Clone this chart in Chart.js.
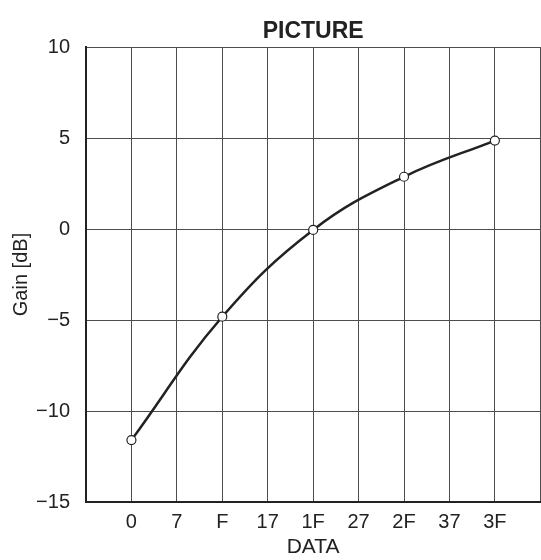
<!DOCTYPE html>
<html>
<head>
<meta charset="utf-8">
<script src="https://cdn.jsdelivr.net/npm/chart.js@4"></script>
<style>
  html, body { margin: 0; padding: 0; background: #fff; overflow: hidden; }
  #wrap { width: 546px; height: 560px; }
</style>
</head>
<body>
<div id="wrap"><canvas id="gain-chart"></canvas></div>
<script>
// x categories (hex codes) shown on the axis
const xLabels = ['0', '7', 'F', '17', '1F', '27', '2F', '37', '3F'];
// measured points
const pointCodes = ['0', 'F', '1F', '2F', '3F'];
const gainDb = [-11.6, -4.82, -0.05, 2.87, 4.86];
const yMin = -15, yMax = 10, yStep = 5;
const chartTitle = 'PICTURE';

const gridColor = '#4d4d4d';
const ink = '#222222';
const font = '"Liberation Sans", Arial, sans-serif';

const points = pointCodes.map((code, i) => ({ x: xLabels.indexOf(code), y: gainDb[i] }));

// title centred over the plot area rather than the whole canvas
const areaTitle = {
    id: 'areaTitle',
    afterDraw(chart) {
        const { ctx, chartArea } = chart;
        ctx.save();
        ctx.fillStyle = ink;
        ctx.font = 'bold 23px ' + font;
        ctx.textAlign = 'center';
        ctx.textBaseline = 'middle';
        ctx.fillText(chartTitle, (chartArea.left + chartArea.right) / 2, 32);
        ctx.restore();
    }
};

const ctx = document.getElementById('gain-chart').getContext('2d');
new Chart(ctx, {
    type: 'line',
    data: {
        datasets: [{
            data: points,
            borderColor: ink,
            borderWidth: 2.5,
            tension: 0.4,
            pointRadius: 4.5,
            pointBackgroundColor: '#ffffff',
            pointBorderColor: ink,
            pointBorderWidth: 1.2
        }]
    },
    options: {
        responsive: true,
        maintainAspectRatio: false,
        animation: false,
        layout: { padding: { left: 0, right: 0, top: 47, bottom: 0 } },
        plugins: {
            legend: { display: false },
            tooltip: { enabled: false },
            title: { display: false }
        },
        scales: {
            x: {
                type: 'linear',
                min: -1,
                max: xLabels.length,
                afterFit: scale => {
                    scale.height = 58;
                    scale.paddingLeft = 0;
                    scale.paddingRight = 0;
                },
                ticks: {
                    stepSize: 1,
                    autoSkip: false,
                    maxRotation: 0,
                    color: ink,
                    padding: 8,
                    font: { family: font, size: 20 },
                    callback: v => xLabels[v] ?? ''
                },
                grid: { color: gridColor, lineWidth: 1, drawTicks: false },
                border: { color: ink, width: 2 },
                title: {
                    display: true,
                    text: 'DATA',
                    color: ink,
                    font: { family: font, size: 21 },
                    padding: { top: 0, bottom: 0 }
                }
            },
            y: {
                min: yMin,
                max: yMax,
                afterFit: scale => { scale.width = 86; },
                ticks: {
                    stepSize: yStep,
                    color: ink,
                    padding: 16,
                    font: { family: font, size: 20 },
                    callback: v => (v < 0 ? '\u2212' + Math.abs(v) : String(v))
                },
                grid: { color: gridColor, lineWidth: 1, drawTicks: false },
                border: { color: ink, width: 2 },
                title: {
                    display: true,
                    text: 'Gain [dB]',
                    color: ink,
                    font: { family: font, size: 20 },
                    padding: { top: 9, bottom: 0 }
                }
            }
        }
    },
    plugins: [areaTitle]
});
</script>
</body>
</html>
